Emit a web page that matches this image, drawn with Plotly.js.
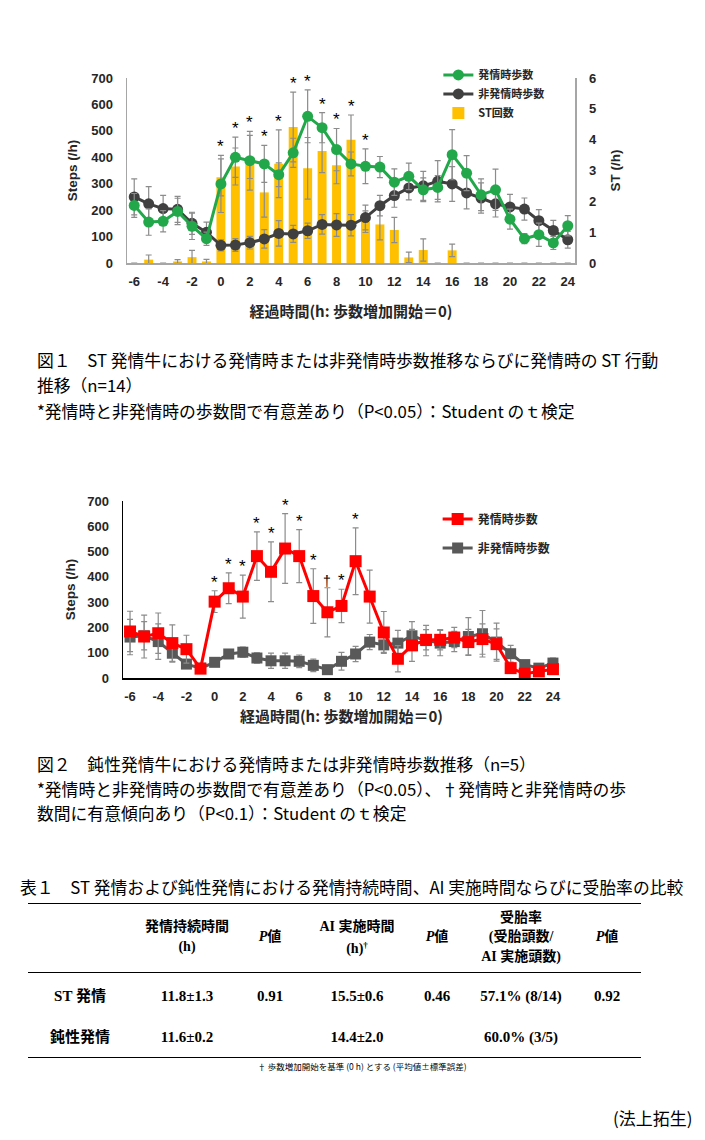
<!DOCTYPE html>
<html><head><meta charset="utf-8">
<script src="https://cdn.plot.ly/plotly-3.0.1.min.js"></script>
<style>
body{margin:0;background:#fff;width:705px;height:1140px;position:relative;overflow:hidden;}
.t{position:absolute;white-space:nowrap;font-family:"Noto Sans CJK JP",sans-serif;color:#000;line-height:20px;}
.c{position:absolute;white-space:nowrap;transform:translate(-50%,-50%);font-family:"Liberation Serif","Noto Sans CJK JP",serif;font-weight:bold;font-size:15px;color:#000;line-height:18px;}
.rule{position:absolute;left:28px;width:613px;border-top:1.5px solid #000;}
#c1{position:absolute;left:0;top:0;width:705px;height:330px;}
#c2{position:absolute;left:0;top:470px;width:705px;height:260px;}
</style></head><body>
<div id="c1"></div><div id="c2"></div>
<script>
// ---------- data ----------
const hours = [-6,-5,-4,-3,-2,-1,0,1,2,3,4,5,6,7,8,9,10,11,12,13,14,15,16,17,18,19,20,21,22,23,24];
const xTicks = [-6,-4,-2,0,2,4,6,8,10,12,14,16,18,20,22,24];
const xTickLabels = ['-6','-4','-2','0','2','4','6','8','10','12','14','16','18','20','22','24'];

// Fig.1 ST estrus cows (n=14)
const estrusSteps1 = [218,155,158,195,139,92,299,400,387,375,334,417,555,512,429,375,366,363,306,328,277,286,410,340,258,277,166,92,107,76,141];
const estrusErr1   = [45,50,40,50,50,25,108,76,111,70,45,55,100,57,80,45,66,40,50,50,45,45,95,66,60,78,38,19,44,25,38];
const nonEstrusSteps1 = [250,224,206,203,150,116,67,68,77,91,112,110,122,146,144,143,172,217,255,284,292,309,299,265,246,224,212,204,160,123,88];
const nonEstrusErr1   = [68,65,50,49,42,39,21,24,24,35,48,32,29,37,43,40,47,39,44,45,55,78,66,60,57,50,48,42,42,38,32];
const stCount = [0,0.11,0,0.05,0.19,0.05,2.78,3.13,3.44,2.29,3.22,4.41,3.07,3.63,3.17,4.0,1.34,1.25,1.07,0.18,0.42,0,0.41,0,0,0,0,0,0,0,0];
const stErr   = [0,0.15,0,0.06,0.22,0.07,0.6,0.6,0.7,0.8,1.1,1.13,1.0,0.7,0.6,0.8,0.35,0.5,0.41,0.17,0.36,0,0.2,0,0,0,0,0,0,0,0];
const sig1Hours = [0,1,2,3,4,5,6,7,8,9,10];
const sig1Marks = ['*','*','*','*','*','*','*','*','*','*','*'];

// Fig.2 silent estrus cows (n=5)
const estrusSteps2 = [184,164,177,138,114,37,302,355,322,482,420,512,482,324,260,285,462,322,180,76,129,151,151,160,142,154,134,39,17,26,35];
const estrusErr2   = [80,85,80,72,55,10,43,61,85,96,118,138,105,108,97,66,132,105,83,52,63,40,40,40,50,60,60,20,10,10,20];
const nonEstrusSteps2 = [162,167,144,98,55,39,62,95,102,79,68,68,66,50,33,66,95,142,131,138,167,148,138,144,164,175,142,96,53,39,59];
const nonEstrusErr2   = [70,56,70,35,15,10,10,12,20,20,30,30,25,25,15,35,30,30,30,50,56,60,50,40,75,92,75,33,10,10,20];
const sig2Hours = [0,1,2,3,4,5,6,7,8,9,10];
const sig2Marks = ['*','*','*','*','*','*','*','*','†','*','*'];

const seriesNames = ['発情時歩数','非発情時歩数','ST回数'];

// ---------- styles ----------
const tickFont = {family:'Liberation Sans, Arial, sans-serif', size:13, weight:'bold', color:'#262626'};
const titleFont = {family:'Liberation Sans, Arial, sans-serif', size:13.5, weight:'bold', color:'#262626'};
const cjkTitleFont = {family:'Noto Sans CJK JP, sans-serif', size:15, weight:'bold', color:'#262626'};
const errStyle = (arr)=>({type:'data', array:arr, visible:true, color:'#8c8c8c', thickness:1.2, width:3});

// ---------- Figure 1 ----------
const stepsPerST = 700/6;
const ann1 = sig1Hours.map((h,k)=>{
  const i = hours.indexOf(h);
  const top = Math.max(estrusSteps1[i]+estrusErr1[i], nonEstrusSteps1[i]+nonEstrusErr1[i], (stCount[i]+stErr[i])*stepsPerST);
  return {x:h, y:top, xref:'x', yref:'y2', text:sig1Marks[k], showarrow:false, yanchor:'bottom', yshift:-3,
          font:{family:'Liberation Sans, Arial', size:17, color:'#000'}};
});

const tr1 = [
  {type:'bar', x:hours, y:stCount, yaxis:'y', name:seriesNames[2], legendrank:3,
   marker:{color:'#FFC000'}, width:0.62, error_y:errStyle(stErr)},
  {type:'scatter', mode:'lines+markers', x:hours, y:nonEstrusSteps1, yaxis:'y2', name:seriesNames[1], legendrank:2,
   line:{color:'#404040', width:3}, marker:{color:'#404040', size:11}, error_y:errStyle(nonEstrusErr1)},
  {type:'scatter', mode:'lines+markers', x:hours, y:estrusSteps1, yaxis:'y2', name:seriesNames[0], legendrank:1,
   line:{color:'#22a84a', width:3}, marker:{color:'#22a84a', size:11}, error_y:errStyle(estrusErr1)}
];
const lay1 = {
  width:705, height:330, margin:{l:127, r:130, t:78, b:67},
  paper_bgcolor:'#fff', plot_bgcolor:'rgba(0,0,0,0)', barmode:'overlay',
  xaxis:{range:[-6.5,24.5], tickvals:xTicks, ticktext:xTickLabels, showline:true, linecolor:'#a6a6a6', linewidth:1.5, zeroline:false,
         showgrid:false, ticks:'', tickfont:tickFont, ticklabelstandoff:6,
         title:{text:'経過時間(h: 歩数増加開始＝0)', font:cjkTitleFont, standoff:18}},
  yaxis:{side:'right', range:[0,6], dtick:1, showline:true, linecolor:'#a6a6a6', linewidth:1.5, zeroline:false,
         showgrid:false, ticks:'', tickfont:tickFont, ticklabelstandoff:10,
         title:{text:'ST (/h)', font:titleFont, standoff:14}},
  yaxis2:{overlaying:'y', side:'left', range:[0,700], dtick:100, showline:true, linecolor:'#a6a6a6', linewidth:1.5,
          zeroline:false, showgrid:false, ticks:'', tickfont:tickFont, ticklabelstandoff:10,
          title:{text:'Steps (/h)', font:titleFont, standoff:10}},
  showlegend:true,
  legend:{x:0.695, y:1.095, xanchor:'left', yanchor:'top', bgcolor:'rgba(0,0,0,0)',
          font:{family:'Noto Sans CJK JP, sans-serif', size:11, weight:'bold', color:'#262626'}},
  annotations:ann1
};
Plotly.newPlot('c1', tr1, lay1, {displayModeBar:false, staticPlot:true});

// ---------- Figure 2 ----------
const ann2 = sig2Hours.map((h,k)=>{
  const i = hours.indexOf(h);
  const top = Math.max(estrusSteps2[i]+estrusErr2[i], nonEstrusSteps2[i]+nonEstrusErr2[i]);
  return {x:h, y:top, xref:'x', yref:'y', text:sig2Marks[k], showarrow:false, yanchor:'bottom', yshift:-3,
          font:{family:'Liberation Sans, Arial', size:sig2Marks[k]==='†'?14:17, color:'#000'}};
});
const tr2 = [
  {type:'scatter', mode:'lines+markers', x:hours, y:nonEstrusSteps2, name:seriesNames[1], legendrank:2, legendgroup:'b',
   line:{color:'#595959', width:3}, marker:{color:'#595959', size:11, symbol:'square'}, error_y:errStyle(nonEstrusErr2)},
  {type:'scatter', mode:'lines+markers', x:hours, y:estrusSteps2, name:seriesNames[0], legendrank:1, legendgroup:'a',
   line:{color:'#ff0000', width:3}, marker:{color:'#ff0000', size:12, symbol:'square'}, error_y:errStyle(estrusErr2)}
];
const lay2 = {
  width:705, height:260, margin:{l:123, r:145, t:31, b:52},
  paper_bgcolor:'#fff', plot_bgcolor:'rgba(0,0,0,0)',
  xaxis:{range:[-6.5,24.5], tickvals:xTicks, ticktext:xTickLabels, showline:true, linecolor:'#000', linewidth:1.5, zeroline:false,
         showgrid:false, ticks:'', tickfont:tickFont, ticklabelstandoff:6,
         title:{text:'経過時間(h: 歩数増加開始＝0)', font:cjkTitleFont, standoff:8}},
  yaxis:{range:[0,700], dtick:100, showline:true, linecolor:'#000', linewidth:1.5, zeroline:false,
         showgrid:false, ticks:'', tickfont:tickFont, ticklabelstandoff:10,
         title:{text:'Steps (/h)', font:titleFont, standoff:8}},
  showlegend:true,
  legend:{x:0.72, y:0.98, xanchor:'left', yanchor:'top', bgcolor:'rgba(0,0,0,0)', traceorder:'grouped', tracegroupgap:10,
          font:{family:'Noto Sans CJK JP, sans-serif', size:12, weight:'bold', color:'#262626'}},
  annotations:ann2
};
Plotly.newPlot('c2', tr2, lay2, {displayModeBar:false, staticPlot:true});

// ---------- captions & table (HTML text) ----------
const cap1 = ['図１　ST 発情牛における発情時または非発情時歩数推移ならびに発情時の ST 行動',
              '推移（n=14）',
              '*発情時と非発情時の歩数間で有意差あり（P<0.05）：Student のｔ検定'];
const cap2 = ['図２　鈍性発情牛における発情時または非発情時歩数推移（n=5）',
              '*発情時と非発情時の歩数間で有意差あり（P<0.05）、†発情時と非発情時の歩',
              '数間に有意傾向あり（P<0.1）：Student のｔ検定'];
const tableTitle = '表１　ST 発情および鈍性発情における発情持続時間、AI 実施時間ならびに受胎率の比較';
const headCells = [[],['発情持続時間','(h)'],['<i>P</i>値'],['AI 実施時間','(h)<sup style="font-size:9px">†</sup>'],['<i>P</i>値'],['受胎率','(受胎頭数/','AI 実施頭数)'],['<i>P</i>値']];
const rowST = ['ST 発情','11.8±1.3','0.91','15.5±0.6','0.46','57.1% (8/14)','0.92'];
const rowSilent = ['鈍性発情','11.6±0.2','','14.4±2.0','','60.0% (3/5)',''];
const footnote = '† 歩数増加開始を基準 (0 h) とする (平均値±標準誤差)';
const author = '(法上拓生)';

function addText(cls, html, left, top, style){
  const d=document.createElement('div'); d.className=cls; d.innerHTML=html;
  d.style.left=left+'px'; d.style.top=top+'px';
  if(style) Object.assign(d.style, style);
  document.body.appendChild(d); return d;
}
const capStyle={fontSize:'16.8px'};
[360,385,411].forEach((y,i)=>addText('t',cap1[i],37,y-10,capStyle));
[764,789,813].forEach((y,i)=>addText('t',cap2[i],37,y-10,capStyle));
addText('t',tableTitle,20,887-10,capStyle);

const colX=[80,187,270,357,437,521,607];
headCells.forEach((lines,c)=>{
  const n=lines.length; lines.forEach((ln,j)=>{
    addText('c',ln,colX[c],937+(j-(n-1)/2)*19.5,{fontSize:'14px'});
  });
});
rowST.forEach((v,c)=>{ if(v) addText('c',v,colX[c],996); });
rowSilent.forEach((v,c)=>{ if(v) addText('c',v,colX[c],1037); });
[903,972,1057].forEach(y=>addText('rule','',28,y));
addText('c',footnote,362,1066,{fontSize:'8.5px',fontWeight:'normal',fontFamily:'"Noto Sans CJK JP",sans-serif'});
addText('t',author,613,1118-10,{fontSize:'17px'});
</script>
</body></html>
